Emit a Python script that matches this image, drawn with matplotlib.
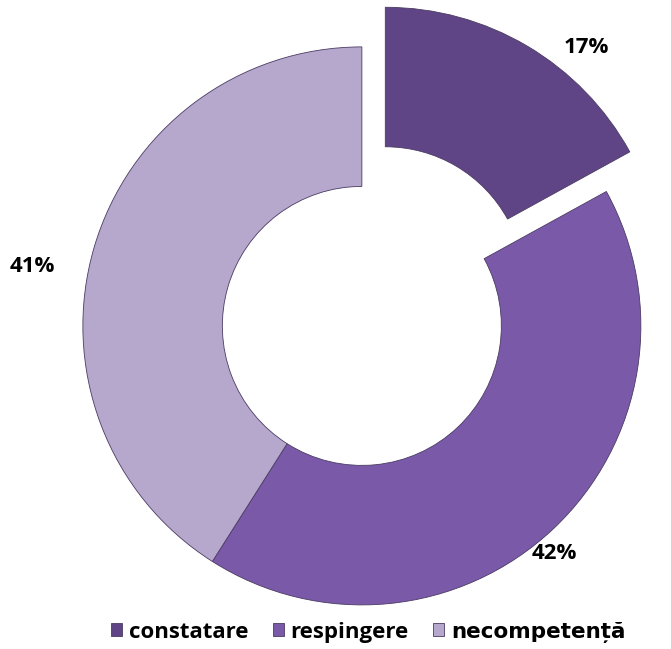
import numpy as np
import matplotlib.pyplot as plt

categories = ['constatare', 'respingere', 'necompetență']
values = [17, 42, 41]
colors = ['#5f4586', '#7a5aa8', '#b5a8cc']
explode = [0.165, 0, 0]

# label placement: distance from wedge centre and small angle shift (deg)
label_dist = [1.12, 1.07, 1.2]
label_shift = [-9.5, -3.0, 6.0]

fig = plt.figure(figsize=(6.71, 6.49), dpi=100)
ax = fig.add_axes([0, 0, 1, 1])

wedges, texts, autotexts = ax.pie(
    values, colors=colors, explode=explode, startangle=90, counterclock=False,
    radius=1.0, autopct='%d%%', pctdistance=1.14,
    wedgeprops=dict(width=0.5, edgecolor='#4b3b63', linewidth=0.6),
    textprops=dict(fontsize=16, fontweight='bold', family='Open Sans', color='black'))

for w, t, d, s in zip(wedges, autotexts, label_dist, label_shift):
    ang = np.deg2rad((w.theta1 + w.theta2) / 2 + s)
    cx, cy = w.center
    t.set_position((cx + d * np.cos(ang), cy + d * np.sin(ang)))

# keep pie centred where the reference has it
ax.set_xlim(-1.297, 1.108)
ax.set_ylim(-1.158, 1.168)
ax.set_aspect('equal')
ax.axis('off')

leg = fig.legend(wedges, categories, ncol=3, loc='center',
                 bbox_to_anchor=(0.549, 0.026), frameon=False,
                 handlelength=0.5, handleheight=0.5, handletextpad=0.3,
                 columnspacing=1.1, borderpad=0,
                 prop=dict(family='Open Sans', weight='bold', size=16))
# the last entry falls back to another font in the original
last = leg.get_texts()[2]
last.set_fontfamily('DejaVu Sans')
last.set_fontweight('bold')
last.set_fontsize(15.5)

fig.savefig('out.png', dpi=100)
